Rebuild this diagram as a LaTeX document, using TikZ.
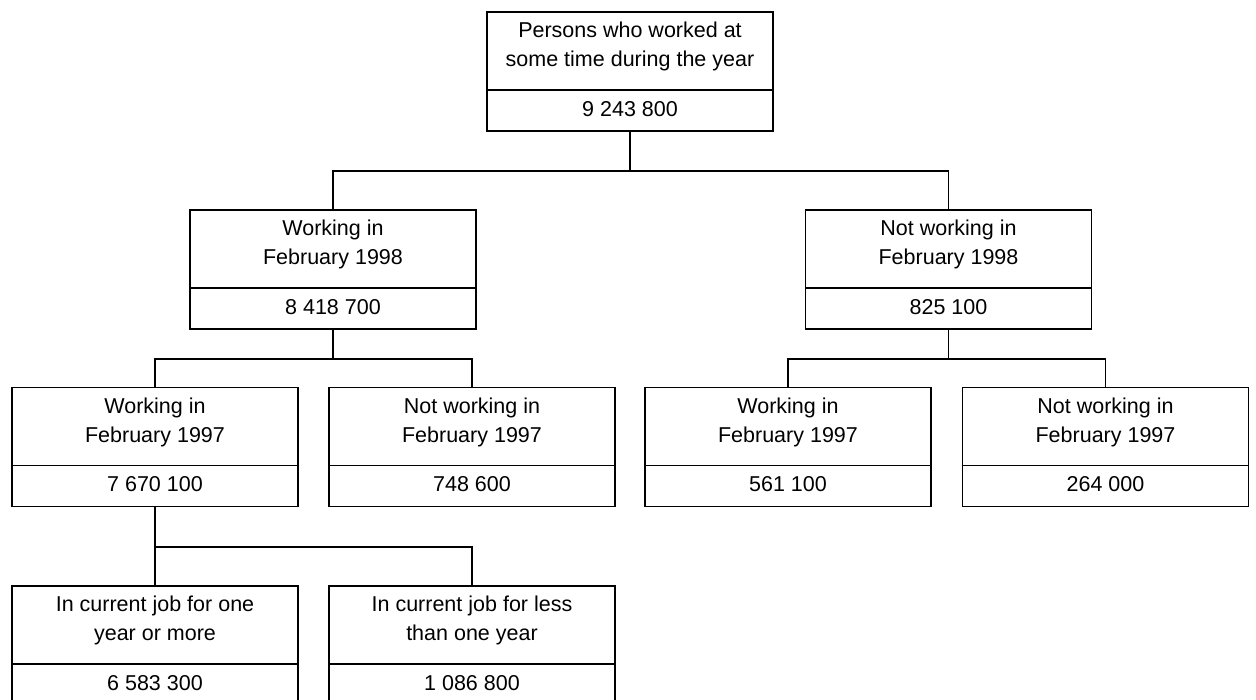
\documentclass[tikz,border=0pt]{standalone}
\usepackage{fontspec}
\setmainfont{Liberation Sans}
\newcommand{\firststrut}{\rule[-13pt]{0pt}{33pt}}
\newcommand{\laststrut}{\rule[-12pt]{0pt}{25pt}}

\begin{document}
\begin{tikzpicture}[x=1pt, y=-1pt,
    lbl/.style={draw, line width=1.2pt, minimum width=286pt, minimum height=78pt, inner sep=0pt,
      outer sep=0pt, align=center, font=\fontsize{21.5}{29}\selectfont,
      execute at begin node=\firststrut, execute at end node=\laststrut},
    num/.style={draw, line width=1.2pt, anchor=north, minimum width=286pt, minimum height=41pt,
      inner sep=0pt, outer sep=0pt, font=\fontsize{21.5}{29}\selectfont, text height=15.4pt, text depth=4pt},
    link/.style={line width=1.1pt}]
    \useasboundingbox (0,0) rectangle (1256,700);
    \clip (0,0) rectangle (1256,700);
    % top
    \node[lbl] (persons) at (630,51) {Persons who worked at\\some time during the year};
    \node[num] (personsN) at (persons.south) {9 243 800};
    % February 1998
    \node[lbl] (work98) at (333,249) {Working in\\February 1998};
    \node[num] (work98N) at (work98.south) {8 418 700};
    \node[lbl] (notwork98) at (948.5,249) {Not working in\\February 1998};
    \node[num] (notwork98N) at (notwork98.south) {825 100};
    % February 1997
    \node[lbl] (workA) at (155,426.5) {Working in\\February 1997};
    \node[num] (workAN) at (workA.south) {7 670 100};
    \node[lbl] (notworkA) at (472,426.5) {Not working in\\February 1997};
    \node[num] (notworkAN) at (notworkA.south) {748 600};
    \node[lbl] (workB) at (788,426.5) {Working in\\February 1997};
    \node[num] (workBN) at (workB.south) {561 100};
    \node[lbl] (notworkB) at (1105.5,426.5) {Not working in\\February 1997};
    \node[num] (notworkBN) at (notworkB.south) {264 000};
    % current job
    \node[lbl] (oldjob) at (155,625) {In current job for one\\year or more};
    \node[num] (oldjobN) at (oldjob.south) {6 583 300};
    \node[lbl] (newjob) at (472,625) {In current job for less\\than one year};
    \node[num] (newjobN) at (newjob.south) {1 086 800};
    %
    \coordinate (j0) at (630,171);
    \coordinate (j1) at (333,359);
    \coordinate (j2) at (948.5,359);
    \coordinate (j3) at (155,547);
    \draw[link] (personsN.south) -- (j0);
    \draw[link] (work98.north) |- (j0) -| (notwork98.north);
    \draw[link] (work98N.south) -- (j1);
    \draw[link] (workA.north) |- (j1) -| (notworkA.north);
    \draw[link] (notwork98N.south) -- (j2);
    \draw[link] (workB.north) |- (j2) -| (notworkB.north);
    \draw[link] (workAN.south) -- (j3);
    \draw[link] (oldjob.north) |- (j3) -| (newjob.north);
\end{tikzpicture}
\end{document}
